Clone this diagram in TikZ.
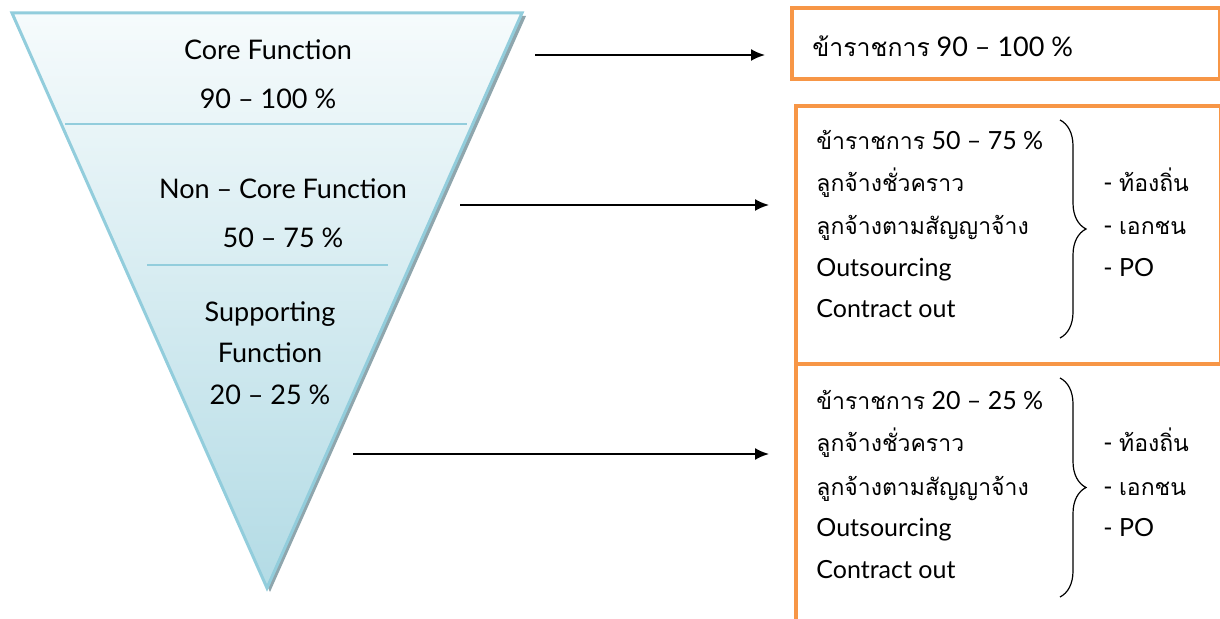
\documentclass[tikz,border=0pt]{standalone}
\usepackage{fontspec}
\setmainfont{Lato}
\newfontfamily\thai[Script=Thai,Scale=0.92]{Loma}
\usetikzlibrary{arrows.meta,decorations.pathreplacing}

\definecolor{funnelline}{HTML}{92CDDC}
\definecolor{funneltop}{HTML}{F6FBFC}
\definecolor{funnelbot}{HTML}{B3DBE5}
\definecolor{funnelshadow}{HTML}{8FA6AD}
\definecolor{boxorange}{HTML}{F79646}

\begin{document}
\begin{tikzpicture}[x=0.5pt,y=-0.5pt,
		lvl/.style={font=\fontsize{13.5}{16}\selectfont, inner sep=0pt, anchor=base},
		row/.style={font=\fontsize{12.5}{15}\selectfont, inner sep=0pt, anchor=base west},
		arr/.style={-{Latex[length=7pt,width=6pt]}, line width=1pt, shorten >=12.5pt},
		orbox/.style={draw=boxorange, line width=1.8pt, anchor=north west, inner sep=0pt},
		brc/.style={decorate, decoration={brace, amplitude=13pt}, line width=0.6pt}]
		\useasboundingbox (0,0) rectangle (1220,619);
		
		% funnel
		\fill[funnelshadow] (15,16) -- (526,16) -- (270,592) -- cycle;
		\shade[top color=funneltop, bottom color=funnelbot, draw=funnelline, line width=1.5pt]
			(12,13) -- (522,13) -- (267,588) -- cycle;
		\draw[funnelline, line width=1pt] (65,124) -- (467,124);
		\draw[funnelline, line width=1pt] (147,265) -- (388,265);
		
		\node[lvl] (core) at (268,60) {Core Function};
		\node[lvl] (corepct) at (268,109) {90 – 100 \%};
		\node[lvl] (noncore) at (283,199) {Non – Core Function};
		\node[lvl] (noncorepct) at (283,248) {50 – 75 \%};
		\node[lvl] (supp) at (270,322) {Supporting};
		\node[lvl] (suppfn) at (270,363) {Function};
		\node[lvl] (supppct) at (270,405) {20 – 25 \%};
		
		% boxes
		\node[orbox, minimum width=214pt, minimum height=35.5pt] (civil) at (790,6) {};
		\node[orbox, minimum width=212.5pt, minimum height=129pt] (mixA) at (794,104) {};
		\node[orbox, minimum width=216pt, minimum height=144pt] (mixB) at (794,362) {};
		
		\node[row, font=\fontsize{13.5}{16}\selectfont] (civiltxt) at (812,57) {{\thai ข้าราชการ} 90 – 100 \%};
		\foreach \y/\pct in {150/50 – 75, 410/20 – 25} {
			\node[row] at (816,\y) {{\thai ข้าราชการ} \pct\ \%};
			\node[row] at (816,\y+42) {\thai ลูกจ้างชั่วคราว};
			\node[row] at (816,\y+85) {\thai ลูกจ้างตามสัญญาจ้าง};
			\node[row] at (816,\y+127) {Outsourcing};
			\node[row] at (816,\y+168) {Contract out};
			\node[row] at (1103,\y+42) {- {\thai ท้องถิ่น}};
			\node[row] at (1103,\y+85) {- {\thai เอกชน}};
			\node[row] at (1103,\y+127) {- PO};
		}
		
		\draw[brc] (1060,120) -- (1060,338);
		\draw[brc] (1060,378) -- (1060,597);
		
		% arrows
		\coordinate (from1) at (535,55);
		\coordinate (from2) at (460,205);
		\coordinate (from3) at (353,454);
		\draw[arr] (from1) -- (from1 -| civil.west);
		\draw[arr] (from2) -- (from2 -| mixA.west);
		\draw[arr] (from3) -- (from3 -| mixB.west);
	\end{tikzpicture}
\end{document}
